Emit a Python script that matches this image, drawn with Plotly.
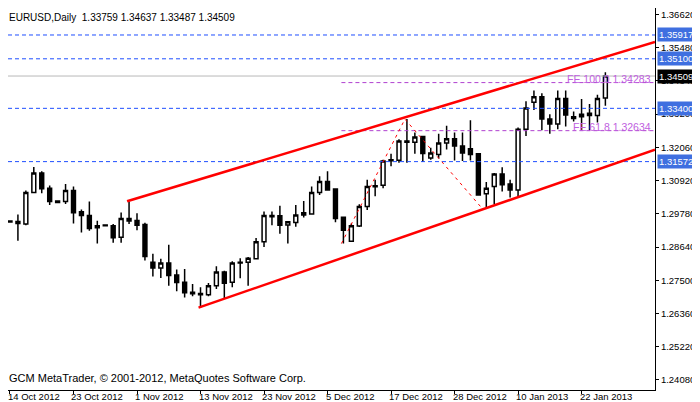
import plotly.graph_objects as go

opens = [1.2950, 1.2952, 1.2943, 1.3051, 1.3118, 1.3066, 1.3022, 1.3020, 1.3058, 1.2985,
         1.2972, 1.2930, 1.2940, 1.2937, 1.2898, 1.2962, 1.2955, 1.2941, 1.2812, 1.2792,
         1.2809, 1.2768, 1.2743, 1.2709, 1.2705, 1.2700, 1.2731, 1.2778, 1.2743, 1.2812,
         1.2812, 1.2824, 1.2882, 1.2972, 1.2971, 1.2940, 1.2948, 1.2974, 1.2977, 1.3051,
         1.3089, 1.3063, 1.2966, 1.2884, 1.2936, 1.3003, 1.3074, 1.3076, 1.3164, 1.3162,
         1.3228, 1.3224, 1.3243, 1.3170, 1.3182, 1.3221, 1.3236, 1.3211, 1.3201, 1.3184,
         1.3047, 1.3072, 1.3115, 1.3080, 1.3060, 1.3268, 1.3361, 1.3380, 1.3303, 1.3286,
         1.3374, 1.3311, 1.3311, 1.3323, 1.3315, 1.33759]
highs = [1.2955, 1.2976, 1.3058, 1.3139, 1.3124, 1.3075, 1.3024, 1.3080, 1.3072, 1.2993,
         1.3020, 1.2954, 1.2941, 1.2943, 1.2983, 1.3020, 1.2980, 1.2947, 1.2841, 1.2824,
         1.2872, 1.2787, 1.2789, 1.2737, 1.2726, 1.2741, 1.2798, 1.2783, 1.2815, 1.2826,
         1.2830, 1.2895, 1.2986, 1.2986, 1.3006, 1.2953, 1.3008, 1.3022, 1.3072, 1.3107,
         1.3124, 1.3066, 1.2966, 1.2945, 1.3011, 1.3095, 1.3095, 1.3164, 1.3184, 1.3234,
         1.3303, 1.3257, 1.3243, 1.3205, 1.3253, 1.3280, 1.3257, 1.3257, 1.3299, 1.3187,
         1.3087, 1.3118, 1.3138, 1.3095, 1.3274, 1.3364, 1.3401, 1.3392, 1.3320, 1.3401,
         1.3401, 1.3329, 1.3372, 1.3355, 1.3387, 1.34637]
lows = [1.2948, 1.2886, 1.2939, 1.3051, 1.3049, 1.3008, 1.3015, 1.3012, 1.2945, 1.2914,
        1.2920, 1.2876, 1.2936, 1.2879, 1.2879, 1.2943, 1.2922, 1.2818, 1.2763, 1.2758,
        1.2731, 1.2712, 1.2691, 1.2695, 1.2656, 1.2695, 1.2720, 1.2688, 1.2726, 1.2757,
        1.2731, 1.2822, 1.2864, 1.2939, 1.2910, 1.2876, 1.2934, 1.2965, 1.2977, 1.3043,
        1.3057, 1.2949, 1.2876, 1.2884, 1.2933, 1.2991, 1.3038, 1.3066, 1.3141, 1.3153,
        1.3153, 1.3184, 1.3156, 1.3164, 1.3168, 1.3199, 1.3161, 1.3159, 1.3161, 1.3041,
        1.2999, 1.3011, 1.3055, 1.3034, 1.3032, 1.3245, 1.3334, 1.3265, 1.3253, 1.3268,
        1.3278, 1.3295, 1.3263, 1.3265, 1.3291, 1.33487]
closes = [1.2953, 1.2945, 1.3051, 1.3118, 1.3064, 1.3020, 1.3017, 1.3058, 1.2982, 1.2972,
          1.2928, 1.2937, 1.2937, 1.2896, 1.2962, 1.2953, 1.2939, 1.2832, 1.2792, 1.2809,
          1.2766, 1.2742, 1.2707, 1.2704, 1.2700, 1.2731, 1.2778, 1.2740, 1.2809, 1.2809,
          1.2826, 1.2882, 1.2972, 1.2968, 1.2939, 1.2951, 1.2974, 1.2982, 1.3051, 1.3089,
          1.3060, 1.2962, 1.2922, 1.2937, 1.3003, 1.3072, 1.3071, 1.3159, 1.3160, 1.3228,
          1.3224, 1.3242, 1.3185, 1.3187, 1.3221, 1.3236, 1.3211, 1.3187, 1.3182, 1.3043,
          1.3066, 1.3115, 1.3078, 1.3060, 1.3268, 1.3341, 1.3380, 1.3303, 1.3286, 1.3374,
          1.3317, 1.3305, 1.3320, 1.3315, 1.3374, 1.34509]

date_labels = ["14 Oct 2012", "23 Oct 2012", "1 Nov 2012", "13 Nov 2012", "23 Nov 2012",
               "5 Dec 2012", "17 Dec 2012", "28 Dec 2012", "10 Jan 2013", "22 Jan 2013"]
date_label_bars = [0, 8, 16, 24, 32, 40, 48, 56, 64, 72]

price_ticks = [1.36620, 1.35480, 1.34340, 1.33200, 1.32060, 1.30920,
               1.29780, 1.28640, 1.27500, 1.26360, 1.25220, 1.24080]

blue_levels = [1.35917, 1.35100, 1.33400, 1.31572]
last_price = 1.34509

fe_levels = [1.36990, 1.34283, 1.32634]
fe_names = ["FE 161.8", "FE 100.0", "FE 61.8"]
fe_start_bar = 41.75

# channel trendlines: (bar, price) anchors
upper_bars = [14.75, 81.25]
upper_prices = [1.3021, 1.3568]
lower_bars = [23.75, 81.25]
lower_prices = [1.2656, 1.3198]

# fibo expansion points
fibo_bars = [41.75, 49.75, 59.4]
fibo_prices = [1.2876, 1.3303, 1.2999]

x = list(range(len(opens)))
x0, x1 = -0.25, 81.25
y0, y1 = 1.23735, 1.36843

fig = go.Figure()

for lvl in blue_levels:
    fig.add_trace(go.Scatter(x=[x0, x1], y=[lvl, lvl], mode="lines",
                             line=dict(color="#1f4fff", width=1, dash="4px,3px"), hoverinfo="skip"))
for lvl in fe_levels:
    fig.add_trace(go.Scatter(x=[fe_start_bar, x1], y=[lvl, lvl], mode="lines",
                             line=dict(color="#b040d0", width=1, dash="4px,3px"), hoverinfo="skip"))
fig.add_trace(go.Scatter(x=[x0, x1], y=[last_price, last_price], mode="lines",
                         line=dict(color="#b8b8b8", width=1), hoverinfo="skip"))

fig.add_trace(go.Scatter(x=fibo_bars, y=fibo_prices, mode="lines",
                         line=dict(color="red", width=1, dash="3px,4px"), hoverinfo="skip"))
fig.add_trace(go.Scatter(x=upper_bars, y=upper_prices, mode="lines",
                         line=dict(color="red", width=2.5), hoverinfo="skip"))
fig.add_trace(go.Scatter(x=lower_bars, y=lower_prices, mode="lines",
                         line=dict(color="red", width=2.5), hoverinfo="skip"))

fig.add_trace(go.Candlestick(
    x=x, open=opens, high=highs, low=lows, close=closes,
    increasing=dict(line=dict(color="black", width=1.5), fillcolor="white"),
    decreasing=dict(line=dict(color="black", width=1.5), fillcolor="black"),
    whiskerwidth=0, hoverinfo="skip"))

font = dict(family="Liberation Sans", size=10, color="black")
small = dict(family="Liberation Sans", size=9.5, color="black")

for name, lvl in zip(fe_names, fe_levels):
    fig.add_annotation(x=x1, y=lvl, text=f"{name} {lvl:.5f}", showarrow=False,
                       xanchor="right", yanchor="bottom", xshift=-2, yshift=-4,
                       font=dict(family="Liberation Sans", size=10.5, color="#c060e0"))

for lvl in blue_levels:
    fig.add_annotation(x=1, xref="paper", y=lvl, text=f"{lvl:.5f}", showarrow=False,
                       xanchor="left", xshift=2, bgcolor="#3f6fe0",
                       font=dict(family="Liberation Sans", size=9.5, color="white"), borderpad=1)
fig.add_annotation(x=1, xref="paper", y=last_price, text=f"{last_price:.5f}", showarrow=False,
                   xanchor="left", xshift=2, bgcolor="black",
                   font=dict(family="Liberation Sans", size=9.5, color="white"), borderpad=1)

for b, lab in zip(date_label_bars, date_labels):
    fig.add_annotation(x=b, y=0, yref="paper", text=lab, showarrow=False,
                       xanchor="left", yanchor="top", xshift=-4, yshift=1, font=small)

fig.add_annotation(x=0, y=1, xref="paper", yref="paper", text="EURUSD,Daily  1.33759 1.34637 1.33487 1.34509",
                   showarrow=False, xanchor="left", yanchor="top", xshift=-1, yshift=-2, font=font)
fig.add_annotation(x=0, y=0, xref="paper", yref="paper",
                   text="GCM MetaTrader, © 2001-2012, MetaQuotes Software Corp.",
                   showarrow=False, xanchor="left", yanchor="bottom", xshift=-1, yshift=4,
                   font=dict(family="Liberation Sans", size=11, color="black"))

fig.update_layout(
    width=692, height=394, margin=dict(l=0, r=45, t=0, b=12, autoexpand=False),
    paper_bgcolor="white", plot_bgcolor="white", showlegend=False,
    xaxis=dict(range=[x0, x1], rangeslider=dict(visible=False), showgrid=False, zeroline=False,
               showline=True, linecolor="black", mirror=True, tickvals=date_label_bars,
               ticktext=[""] * len(date_label_bars), ticks="outside", ticklen=3, tickcolor="black"),
    yaxis=dict(range=[y0, y1], side="right", showgrid=False, zeroline=False,
               showline=True, linecolor="black", mirror=True, tickvals=price_ticks,
               ticktext=[f"{p:.5f}" for p in price_ticks], ticks="outside", ticklen=3,
               tickcolor="black", tickfont=small),
)

fig.write_html("out.html")
